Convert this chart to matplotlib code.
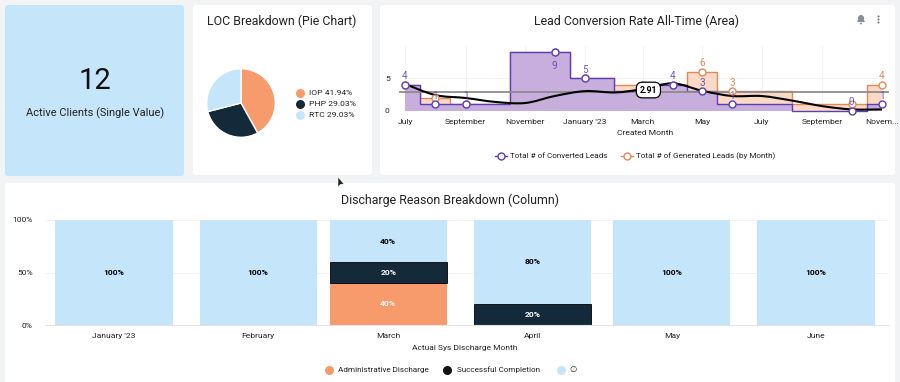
import numpy as np
import matplotlib
matplotlib.use("Agg")
import matplotlib.pyplot as plt
import matplotlib.dates as mdates
from matplotlib.patches import FancyBboxPatch, Polygon, Circle, PathPatch
from matplotlib.path import Path
from datetime import date

plt.rcParams['font.family'] = ['Roboto', 'DejaVu Sans']

# Data
clients_value = "12"
clients_label = "Active Clients (Single Value)"

loc_names = ["IOP", "PHP", "RTC"]
loc_shares = [41.94, 29.03, 29.03]

lead_dates = [date(2022, 7, 1), date(2022, 8, 1), date(2022, 9, 1), date(2022, 12, 1),
              date(2023, 1, 1), date(2023, 3, 1), date(2023, 4, 1), date(2023, 5, 1),
              date(2023, 6, 1), date(2023, 10, 1), date(2023, 11, 1)]
converted = [4, 1, 1, 9, 5, 3, 4, 3, 1, 0, 1]
converted_shown = [True, True, True, True, True, False, True, True, True, True, True]
generated = [4, 2, 1, 9, 5, 4, 4, 6, 3, 1, 4]
generated_shown = [False, False, False, False, False, False, False, True, True, False, True]
conversion_avg = 2.91

trend_dates = [date(2022, 7, 1), date(2022, 8, 1), date(2022, 9, 1), date(2022, 10, 1),
               date(2022, 11, 1), date(2022, 12, 1), date(2023, 1, 1), date(2023, 2, 1),
               date(2023, 3, 1), date(2023, 4, 1), date(2023, 5, 1), date(2023, 6, 1),
               date(2023, 7, 1), date(2023, 8, 1), date(2023, 9, 1), date(2023, 10, 1),
               date(2023, 11, 1)]
trend_values = [4.1, 2.4, 1.95, 1.35, 1.18, 2.25, 3.0, 2.8, 3.3, 4.2, 3.05, 2.25, 2.25,
                1.55, 0.7, 0.2, 0.2]

lead_ticks = [date(2022, 7, 1), date(2022, 9, 1), date(2022, 11, 1), date(2023, 1, 1),
              date(2023, 3, 1), date(2023, 5, 1), date(2023, 7, 1), date(2023, 9, 1),
              date(2023, 11, 1)]
lead_tick_labels = ["July", "September", "November", "January '23", "March", "May", "July",
                    "September", "Novem..."]

discharge_months = [date(2023, 1, 1), date(2023, 2, 1), date(2023, 3, 1),
                    date(2023, 4, 1), date(2023, 5, 1), date(2023, 6, 1)]
discharge_labels = ["January '23", "February", "March", "April", "May", "June"]
admin_pct = [0, 0, 40, 0, 0, 0]
success_pct = [0, 0, 20, 20, 0, 0]
none_pct = [100, 100, 40, 80, 100, 100]

# Colours
BG = "#f1f3f5"
BLUE = "#c5e5fb"
ORANGE = "#f79a6c"
DARK = "#14293a"
TEXT = "#222222"
PURPLE = "#5a3fb4"
PURPLE_FILL = "#c4abdf"
LEAD_ORANGE = "#e08a5a"
LEAD_ORANGE_FILL = "#fbd9c6"
GRID = "#f3f3f3"

W, H = 900, 382
fig = plt.figure(figsize=(W / 100, H / 100), dpi=100, facecolor=BG)


def px_axes(left, top, right, bottom, **kw):
    return fig.add_axes([left / W, 1 - bottom / H, (right - left) / W, (bottom - top) / H], **kw)


# background layer works in pixels, y going down
bg = fig.add_axes([0, 0, 1, 1])
bg.set_xlim(0, W)
bg.set_ylim(H, 0)
bg.axis("off")


def card(x0, y0, x1, y1, color="white"):
    bg.add_patch(FancyBboxPatch((x0 + 3, y0 + 3), x1 - x0 - 6, y1 - y0 - 6,
                                boxstyle="round,pad=3", fc=color, ec="none"))


card(5, 5, 184, 176, BLUE)
card(193, 5, 372, 175)
card(380, 5, 895, 175)
card(5, 183, 895, 386)

# Single value
bg.text(95, 81, clients_value, fontsize=21, color="#111111", ha="center", va="center")
bg.text(95, 113, clients_label, fontsize=7.9, color=TEXT, ha="center", va="center")

# Pie
bg.text(282, 21, "LOC Breakdown (Pie Chart)", fontsize=8.9, color=TEXT, ha="center", va="center")
pie_ax = px_axes(205, 67, 277, 139)
pie_ax.pie(loc_shares, colors=[ORANGE, DARK, BLUE], startangle=90, counterclock=False,
           radius=1.0, wedgeprops={"edgecolor": "white", "linewidth": 1})
pie_ax.set_xlim(-1.05, 1.05)
pie_ax.set_ylim(-1.05, 1.05)
for i, (name, share, col) in enumerate(zip(loc_names, loc_shares, [ORANGE, DARK, BLUE])):
    y = 93 + i * 11
    bg.plot([300], [y], "o", ms=6.5, color=col, mec="none")
    bg.text(309, y, f"{name} {share:.2f}%", fontsize=6.1, color=TEXT, ha="left", va="center")

# Lead conversion area
bg.text(637, 21, "Lead Conversion Rate All-Time (Area)", fontsize=8.9, color=TEXT,
        ha="center", va="center")
ax = px_axes(405, 45.5, 882, 110.7)
ax.patch.set_alpha(0)
x_lead = mdates.date2num(lead_dates)
ax.grid(axis="y", color=GRID, lw=0.7)
ax.set_axisbelow(True)
for tick in mdates.date2num(lead_ticks):
    ax.axvline(tick, color=GRID, lw=0.7, zorder=0)

ax.fill_between(x_lead, generated, step="mid", color=LEAD_ORANGE_FILL, lw=0, zorder=1)
ax.step(x_lead, generated, where="mid", color=LEAD_ORANGE, lw=1, zorder=1.5, clip_on=False)
ax.fill_between(x_lead, converted, step="mid", color=PURPLE_FILL, alpha=0.92, lw=0, zorder=2)
ax.step(x_lead, converted, where="mid", color=PURPLE, lw=1, zorder=2.5, clip_on=False)
ax.axhline(conversion_avg, color="#8c8c8c", lw=1.3, zorder=3, xmin=-0.01, xmax=1.012, clip_on=False)

# smooth trend through the read points
pts = np.column_stack([mdates.date2num(trend_dates), trend_values])
verts = [tuple(pts[0])]
codes = [Path.MOVETO]
for i in range(len(pts) - 1):
    before = pts[max(i - 1, 0)]
    after = pts[min(i + 2, len(pts) - 1)]
    verts.append(tuple(pts[i] + (pts[i + 1] - before) / 6))
    verts.append(tuple(pts[i + 1] - (after - pts[i]) / 6))
    verts.append(tuple(pts[i + 1]))
    codes += [Path.CURVE4, Path.CURVE4, Path.CURVE4]
ax.add_patch(PathPatch(Path(verts, codes), fc="none", ec="black", lw=1.5, zorder=4))

ax.plot(x_lead, generated, "o", ms=5, mfc="white", mec=LEAD_ORANGE, mew=1, zorder=5, clip_on=False)
ax.plot(x_lead, converted, "o", ms=5, mfc="white", mec=PURPLE, mew=1, zorder=6, clip_on=False)

for xv, val, shown in zip(x_lead, converted, converted_shown):
    if shown:
        off = -10 if val == 9 else 6
        ax.annotate(str(val), (xv, val), xytext=(0, off), textcoords="offset points", fontsize=7.2,
                    color=PURPLE, ha="center", va="center", alpha=0.85, zorder=7,
                    annotation_clip=False)
for xv, val, shown in zip(x_lead, generated, generated_shown):
    if shown:
        ax.annotate(str(val), (xv, val), xytext=(0, 6), textcoords="offset points", fontsize=7.2,
                    color=LEAD_ORANGE, ha="center", va="center", zorder=7, annotation_clip=False)

ax.text(mdates.date2num(date(2023, 3, 7)), 3.17, f"{conversion_avg}", fontsize=6.3, fontweight="bold",
        color="black", ha="center", va="center", zorder=8,
        bbox=dict(boxstyle="round,pad=0.38,rounding_size=0.7", fc="white", ec="black", lw=0.9))

ax.set_xlim(mdates.date2num(date(2022, 7, 1)), mdates.date2num(date(2023, 11, 1)))
ax.set_ylim(0, 10)
ax.set_yticks([0, 5])
ax.set_xticks(mdates.date2num(lead_ticks))
ax.set_xticklabels(lead_tick_labels)
ax.tick_params(axis="both", length=0, labelsize=6.1, labelcolor=TEXT)
ax.tick_params(axis="x", pad=6)
ax.tick_params(axis="y", pad=11)
for s in ax.spines.values():
    s.set_visible(False)
bg.text(645, 133, "Created Month", fontsize=6.1, color=TEXT, ha="center", va="center")

# lead legend
bg.plot([495, 507], [156, 156], color=PURPLE, lw=1)
bg.plot([501], [156], "o", ms=5, mfc="white", mec=PURPLE, mew=1)
bg.text(510, 156, "Total # of Converted Leads", fontsize=5.9, color=TEXT, ha="left", va="center")
bg.plot([621, 633], [156, 156], color=LEAD_ORANGE, lw=1)
bg.plot([627], [156], "o", ms=5, mfc="white", mec=LEAD_ORANGE, mew=1)
bg.text(636, 156, "Total # of Generated Leads (by Month)", fontsize=5.9, color=TEXT,
        ha="left", va="center")

# bell and menu icons
bg.add_patch(Polygon([[857, 22], [858, 20], [858, 17], [860, 15], [862, 15], [864, 17],
                      [864, 20], [865, 22]], closed=True, fc="#8a8f94", ec="none"))
bg.add_patch(Circle((861, 23.5), 1, fc="#8a8f94", ec="none"))
bg.plot([878, 878, 878], [16, 19, 22], "o", ms=1.5, color="#777777", mec="none")

# Discharge columns
bg.text(450, 200, "Discharge Reason Breakdown (Column)", fontsize=8.9, color=TEXT,
        ha="center", va="center")
bx = px_axes(45, 220, 888, 325)
bx.patch.set_alpha(0)
x_dis = mdates.date2num(discharge_months)
bar_w = 25.2
admin = np.array(admin_pct)
success = np.array(success_pct)
none = np.array(none_pct)
bx.grid(axis="y", color=GRID, lw=0.7)
bx.set_axisbelow(True)
bx.bar(x_dis, admin, bar_w, color=ORANGE)
bx.bar(x_dis, success, bar_w, bottom=admin, color=DARK, edgecolor="black", lw=0.6)
bx.bar(x_dis, none, bar_w, bottom=admin + success, color=BLUE)
for i, xv in enumerate(x_dis):
    if admin[i]:
        bx.text(xv, admin[i] / 2, f"{admin[i]}%", color="white", fontsize=6.1, fontweight="bold",
                ha="center", va="center")
    if success[i]:
        bx.text(xv, admin[i] + success[i] / 2, f"{success[i]}%", color="white", fontsize=6.1,
                fontweight="bold", ha="center", va="center")
    if none[i]:
        bx.text(xv, admin[i] + success[i] + none[i] / 2, f"{none[i]}%", color="black", fontsize=6.1,
                fontweight="bold", ha="center", va="center")
bx.set_xlim(x_dis[0] - 14.84, x_dis[0] + 166.5)
bx.set_ylim(0, 100)
bx.set_yticks([0, 50, 100])
bx.set_yticklabels(["0%", "50%", "100%"])
bx.set_xticks(x_dis)
bx.set_xticklabels(discharge_labels)
bx.tick_params(axis="both", length=0, labelsize=6.1, labelcolor=TEXT)
bx.tick_params(axis="x", pad=6)
bx.tick_params(axis="y", pad=9)
for s in ["top", "left", "right"]:
    bx.spines[s].set_visible(False)
bx.spines["bottom"].set_color("#e4e4e4")
bg.text(465, 348, "Actual Sys Discharge Month", fontsize=6.0, color=TEXT, ha="center", va="center")

# discharge legend
bg.plot([329], [370], "o", ms=6.5, color=ORANGE, mec="none")
bg.text(338, 370, "Administrative Discharge", fontsize=5.9, color=TEXT, ha="left", va="center")
bg.plot([447], [370], "o", ms=6.5, color="#111111", mec="none")
bg.text(457, 370, "Successful Completion", fontsize=5.9, color=TEXT, ha="left", va="center")
bg.plot([561], [370], "o", ms=6.5, color=BLUE, mec="none")
bg.text(573, 370, "\u2205", fontsize=6.1, color=TEXT, ha="center", va="center")

# mouse cursor
top = fig.add_axes([0, 0, 1, 1], facecolor="none")
top.set_xlim(0, W)
top.set_ylim(H, 0)
top.axis("off")
top.add_patch(Polygon([[338, 177], [338, 187], [340.5, 184.5], [344, 184]], closed=True,
                      fc="#222222", ec="white", lw=0.4))

fig.savefig("out.png", dpi=100, facecolor=BG)
